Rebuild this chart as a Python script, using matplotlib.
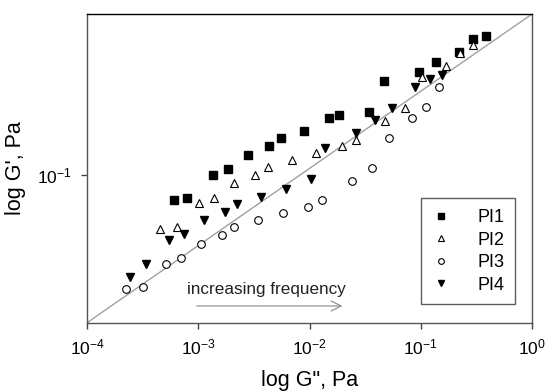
import numpy as np
import matplotlib
matplotlib.use("Agg")
from matplotlib import pyplot as plt
from matplotlib.ticker import FixedLocator, FuncFormatter, NullLocator

plt.rcParams['font.family'] = ['Liberation Sans', 'DejaVu Sans']
plt.rcParams['mathtext.fontset'] = 'custom'
plt.rcParams['mathtext.rm'] = 'Liberation Sans'
plt.rcParams['mathtext.it'] = 'Liberation Sans'
plt.rcParams['mathtext.default'] = 'regular'

# G'' (x) and G' (y) for the four samples, Pa
pi1_x = [6.0e-4, 7.9e-4, 1.35e-3, 1.84e-3, 2.77e-3, 4.28e-3, 5.51e-3, 9.0e-3, 0.0150,
         0.0183, 0.0345, 0.0464, 0.0955, 0.137, 0.221, 0.297, 0.383]
pi1_y = [0.0814, 0.0828, 0.1003, 0.1048, 0.1179, 0.1269, 0.1352, 0.1437, 0.1603,
         0.1634, 0.1680, 0.2175, 0.2334, 0.2527, 0.2744, 0.3053, 0.314]

pi2_x = [4.53e-4, 6.4e-4, 1.02e-3, 1.39e-3, 2.11e-3, 3.25e-3, 4.19e-3, 6.89e-3, 0.0115,
         0.0195, 0.0261, 0.0481, 0.0716, 0.103, 0.167, 0.224, 0.293]
pi2_y = [0.0643, 0.0654, 0.0792, 0.0828, 0.0934, 0.100, 0.1071, 0.1131, 0.1202,
         0.1269, 0.1334, 0.1563, 0.1740, 0.2234, 0.2459, 0.2722, 0.2914]

pi3_x = [2.24e-4, 3.2e-4, 5.12e-4, 6.93e-4, 1.05e-3, 1.64e-3, 2.11e-3, 3.44e-3, 5.79e-3,
         9.68e-3, 0.0130, 0.0240, 0.0363, 0.0521, 0.0834, 0.112, 0.147]
pi3_y = [0.0392, 0.0399, 0.0483, 0.0507, 0.0568, 0.0612, 0.0650, 0.0692, 0.0733,
         0.0770, 0.0812, 0.0952, 0.1062, 0.1360, 0.1599, 0.1745, 0.2058]

pi4_x = [2.43e-4, 3.41e-4, 5.46e-4, 7.35e-4, 1.12e-3, 1.75e-3, 2.23e-3, 3.65e-3, 6.14e-3,
         0.0103, 0.0139, 0.0259, 0.0387, 0.0556, 0.0889, 0.121, 0.155]
pi4_y = [0.0431, 0.0483, 0.0586, 0.0614, 0.0690, 0.0740, 0.0788, 0.0837, 0.0889,
         0.0968, 0.1245, 0.1417, 0.1573, 0.1740, 0.2058, 0.2210, 0.2277]

x_ticks = [1e-4, 1e-3, 1e-2, 1e-1, 1e0]
y_ticks = [1e-1]

fig = plt.figure(figsize=(5.45, 3.92), dpi=100)
ax = fig.add_axes([0.16, 0.177, 0.816, 0.787])
ax.set_xscale('log')
ax.set_yscale('log')
ax.set_xlim(1e-4, 1e0)
ax.set_ylim(0.0297, 0.376)

# diagonal reference line
ax.plot([0, 1], [0, 1], transform=ax.transAxes, color='#a0a0a0', lw=1, zorder=1)

ms = 5.5
ax.plot(pi1_x, pi1_y, 's', color='black', ms=ms - 0.3, ls='none', label='PI1', zorder=3)
ax.plot(pi2_x, pi2_y, '^', mfc='white', mec='black', mew=0.8, ms=ms, ls='none', label='PI2', zorder=3)
ax.plot(pi3_x, pi3_y, 'o', mfc='white', mec='black', mew=0.8, ms=ms, ls='none', label='PI3', zorder=3)
ax.plot(pi4_x, pi4_y, 'v', color='black', ms=ms + 0.5, ls='none', label='PI4', zorder=3)

ax.xaxis.set_major_locator(FixedLocator(x_ticks))
ax.yaxis.set_major_locator(FixedLocator(y_ticks))
ax.xaxis.set_minor_locator(NullLocator())
ax.yaxis.set_minor_locator(NullLocator())
fmt = FuncFormatter(lambda v, p: r'$10^{%d}$' % int(round(np.log10(v))))
ax.xaxis.set_major_formatter(fmt)
ax.yaxis.set_major_formatter(fmt)
ax.tick_params(direction='out', length=4, width=1, color='#444444', labelsize=12.5, pad=7)

for s in ax.spines.values():
    s.set_color('#555555')
    s.set_linewidth(1)
ax.spines['top'].set_color('black')

ax.set_xlabel('log G", Pa', fontsize=15.5, labelpad=9)
ax.set_ylabel("log G', Pa", fontsize=15.5, labelpad=8)

leg = ax.legend(loc='lower right', bbox_to_anchor=(0.962, 0.059), frameon=True, fancybox=False,
                edgecolor='#333333', fontsize=13, markerscale=0.75, handlelength=1.0,
                handletextpad=1.5, borderpad=0.6, labelspacing=0.3, borderaxespad=0)
leg.get_frame().set_linewidth(1)

ax.text(0.225, 0.106, 'increasing frequency', transform=ax.transAxes, fontsize=12.3,
        ha='left', va='center', color='#222222')
ax.annotate('', xy=(0.58, 0.054), xytext=(0.24, 0.054), xycoords='axes fraction',
            arrowprops=dict(arrowstyle='->', color='#888888', lw=0.8, mutation_scale=18))

fig.savefig('out.png', dpi=100)
